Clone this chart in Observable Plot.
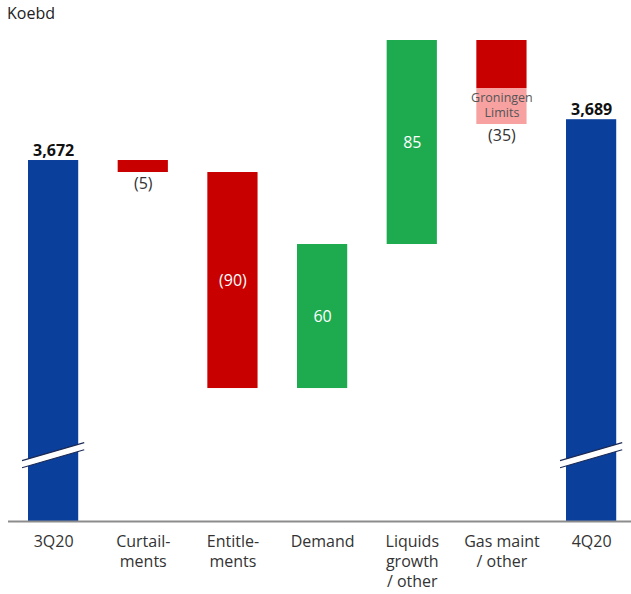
<!DOCTYPE html>
<html>
<head>
<meta charset="utf-8">
<script src="https://cdn.jsdelivr.net/npm/d3@7"></script>
<script src="https://cdn.jsdelivr.net/npm/@observablehq/plot@0.6"></script>
<style>
  html, body { margin: 0; padding: 0; background: #fff; }
  body { width: 631px; height: 594px; overflow: hidden; font-family: "Open Sans", sans-serif; }
  #unit { height: 30px; font-size: 16px; line-height: 27px; padding-left: 7px; color: #222; }
  #chart svg { display: block; }
</style>
</head>
<body>
<div id="unit">Koebd</div>
<div id="chart"></div>
<script>
// ---- data ----
const categories = ["3Q20", "Curtail-\nments", "Entitle-\nments", "Demand", "Liquids\ngrowth\n/ other", "Gas maint\n/ other", "4Q20"];
const startTotal = 3672;
const endTotal = 3689;
const changes = [-5, -90, 60, 85, -35];          // Curtailments … Gas maint / other
const gasMaintOther = -20;                        // dark part of the gas bar
const groningenLimits = -15;                      // pale part of the gas bar
const groningenLabel = "Groningen\nLimits";
const axisMin = 3521.6;   // broken-axis floor
const axisMax = 3722;
const breakAt = 3549;     // where the total bars are broken

const colors = {total: "#0b3f9c", down: "#c80000", up: "#1eab4f", pale: "#f7a1a1"};
const fmtTotal = d3.format(",");
const fmtChange = v => v < 0 ? `(${Math.abs(v)})` : `${v}`;

// ---- build waterfall rows ----
const bars = [];
bars.push({cat: categories[0], y1: axisMin, y2: startTotal, fill: colors.total});
let level = startTotal;
const changeRows = [];
changes.forEach((v, i) => {
  const cat = categories[i + 1];
  const from = level, to = level + v;
  if (i === changes.length - 1) {
    bars.push({cat, y1: from, y2: from + gasMaintOther, fill: colors.down});
    bars.push({cat, y1: from + gasMaintOther, y2: from + gasMaintOther + groningenLimits, fill: colors.pale});
  } else {
    bars.push({cat, y1: from, y2: to, fill: v < 0 ? colors.down : colors.up});
  }
  changeRows.push({cat, v, from, to, lo: Math.min(from, to), hi: Math.max(from, to), mid: (from + to) / 2});
  level = to;
});
bars.push({cat: categories[6], y1: axisMin, y2: endTotal, fill: colors.total});

const totals = [{cat: categories[0], v: startTotal}, {cat: categories[6], v: endTotal}];
const inside = changeRows.filter(d => Math.abs(d.v) >= 50);
const below = changeRows.filter(d => Math.abs(d.v) < 50);
const gasRow = changeRows[changeRows.length - 1];
const groningenRows = [{cat: gasRow.cat, y: gasRow.from + gasMaintOther + groningenLimits / 2}];
const breakCats = [categories[0], categories[6]];

// custom break mark drawn through the plot's scales
function breakMark(index, scales) {
  const ns = "http://www.w3.org/2000/svg";
  const g = document.createElementNS(ns, "g");
  const bw = scales.x.bandwidth ? scales.x.bandwidth() : 50;
  const yc = scales.y(breakAt);
  for (const c of breakCats) {
    const x0 = scales.x(c) - 6, x1 = scales.x(c) + bw + 6;
    const rise = 18, half = 3.6;
    const yl = yc + rise / 2, yr = yc - rise / 2;
    const poly = document.createElementNS(ns, "polygon");
    poly.setAttribute("points", `${x0},${yl - half} ${x1},${yr - half} ${x1},${yr + half} ${x0},${yl + half}`);
    poly.setAttribute("fill", "#fff");
    g.appendChild(poly);
    for (const s of [-1, 1]) {
      const ln = document.createElementNS(ns, "line");
      ln.setAttribute("x1", x0); ln.setAttribute("y1", yl + s * half);
      ln.setAttribute("x2", x1); ln.setAttribute("y2", yr + s * half);
      ln.setAttribute("stroke", "#1b2a55");
      ln.setAttribute("stroke-width", 1.1);
      g.appendChild(ln);
    }
  }
  return g;
}

const chart = Plot.plot({
  width: 631,
  height: 564,
  marginTop: 10,
  marginBottom: 73,
  marginLeft: 8,
  marginRight: 0,
  style: {fontFamily: "'Open Sans', sans-serif", background: "#fff", overflow: "visible"},
  x: {domain: categories, paddingInner: 0.44, paddingOuter: 0.194, align: 0.575, round: false, axis: null},
  y: {domain: [axisMin, axisMax], axis: null},
  marks: [
    Plot.barY(bars, {x: "cat", y1: "y1", y2: "y2", fill: "fill"}),
    breakMark,
    Plot.ruleY([axisMin], {stroke: "#8c8c8c", strokeWidth: 2}),
    Plot.text(totals, {x: "cat", y: "v", text: d => fmtTotal(d.v), lineAnchor: "bottom", dy: -5, fontSize: 16, fontWeight: "bold", fill: "#111"}),
    Plot.text(inside, {x: "cat", y: "mid", text: d => fmtChange(d.v), fontSize: 16, fill: "#fff"}),
    Plot.text(below, {x: "cat", y: "lo", text: d => fmtChange(d.v), lineAnchor: "top", dy: 5, fontSize: 16, fill: "#333"}),
    Plot.text(groningenRows, {x: "cat", y: "y", text: () => groningenLabel, dy: -2, fontSize: 12.5, lineHeight: 1.25, fill: "#555"}),
    Plot.text(categories, {x: d => d, frameAnchor: "bottom", lineAnchor: "top", dy: 11, lineHeight: 1.25, fontSize: 16, fill: "#333"})
  ]
});
document.getElementById("chart").appendChild(chart);
</script>
</body>
</html>
